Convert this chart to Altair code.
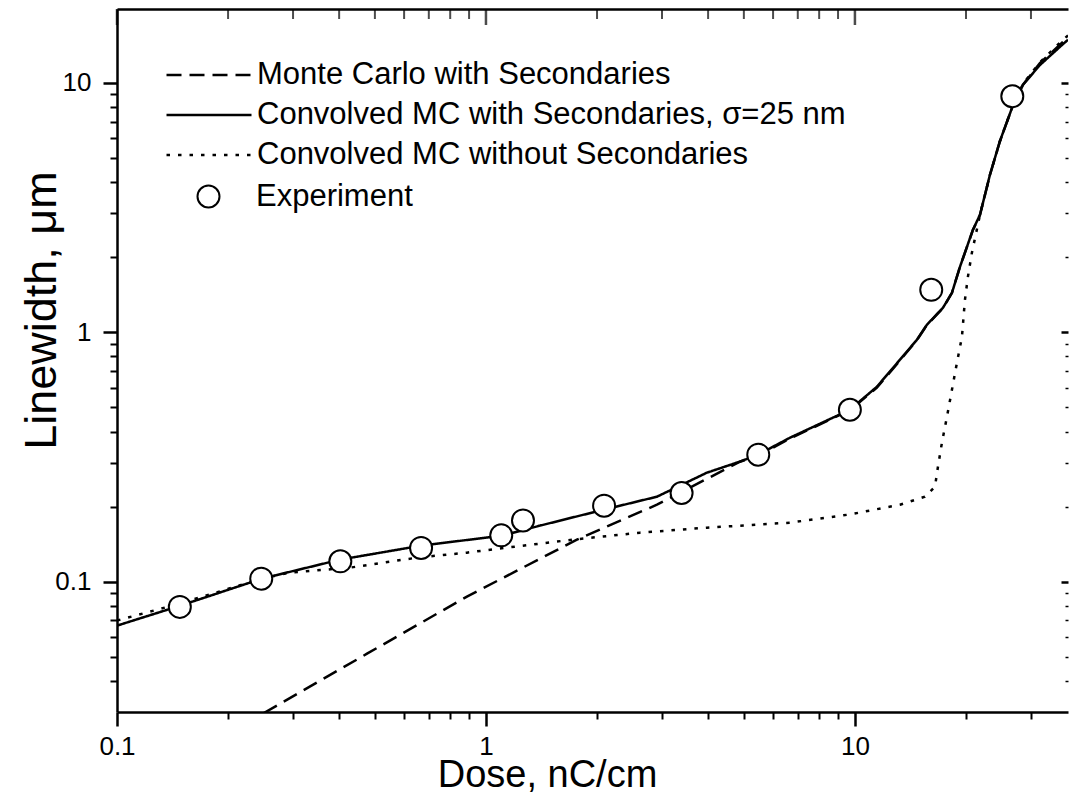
import altair as alt
import pandas as pd

FONT = "Liberation Sans"

S_MC = "Monte Carlo with Secondaries"
S_CONV = "Convolved MC with Secondaries, σ=25 nm"
S_NOSEC = "Convolved MC without Secondaries"
S_EXP = "Experiment"

# Experiment (open circles)
exp_dose = [0.148, 0.246, 0.403, 0.667, 1.10, 1.26, 2.09, 3.39, 5.47, 9.69, 16.1, 26.7]
exp_width = [0.0792, 0.1028, 0.1206, 0.1365, 0.1533, 0.176, 0.2017, 0.2267, 0.323, 0.489, 1.48, 8.85]

# Convolved MC with secondaries (solid)
conv_dose = [0.1, 0.148, 0.247, 0.402, 0.667, 1.105, 1.40, 2.087, 2.907, 3.97, 4.88, 5.46, 6.67,
             9.69, 11.47, 13.24, 14.72, 15.67, 17.32, 18.32, 19.26, 20.88, 21.82, 23.22, 24.72,
             26.65, 28.53, 31.72, 36.6, 37.8]
conv_width = [0.0666, 0.080, 0.1028, 0.1225, 0.1394, 0.1529, 0.1677, 0.1944, 0.2191, 0.2735, 0.303, 0.323, 0.3778,
              0.489, 0.605, 0.776, 0.933, 1.072, 1.254, 1.439, 1.83, 2.576, 2.958, 4.28, 5.85,
              7.94, 9.82, 11.8, 14.3, 14.9]

# Monte Carlo with secondaries (dashed)
mc_dose = [0.25, 0.476, 0.888, 1.764, 2.907, 4.88, 5.46, 6.67, 9.69, 11.47, 13.24, 14.72, 15.67,
           17.32, 18.32, 19.26, 20.88, 21.82, 23.22, 24.72, 26.65, 28.53, 31.72, 36.6, 37.8]
mc_width = [0.0297, 0.0514, 0.0871, 0.1474, 0.2035, 0.3027, 0.32, 0.375, 0.487, 0.60, 0.77, 0.93, 1.07,
            1.25, 1.44, 1.83, 2.57, 2.95, 4.27, 5.84, 7.93, 9.85, 12.0, 14.6, 15.2]

# Convolved MC without secondaries (dotted)
nosec_dose = [0.1, 0.148, 0.247, 0.294, 0.428, 0.650, 0.888, 1.14, 1.72, 2.615, 3.97, 6.67, 9.69,
              13.24, 15.48, 16.48, 16.79, 17.21, 17.76, 18.32, 18.90, 19.50, 19.87, 20.24, 20.75,
              21.82, 23.22, 24.72, 26.65, 28.53, 31.72, 36.6, 37.8]
nosec_width = [0.0698, 0.0817, 0.1028, 0.1087, 0.1138, 0.1248, 0.1307, 0.1369, 0.1474, 0.1572, 0.1646, 0.1724, 0.186,
               0.2035, 0.2191, 0.2403, 0.289, 0.3607, 0.4585, 0.588, 0.7548, 0.959, 1.35, 1.669, 2.083,
               2.958, 4.28, 5.85, 7.94, 9.9, 12.1, 14.9, 15.5]

x_major = [0.1, 1, 10]
x_minor = [0.2, 0.3, 0.4, 0.5, 0.6, 0.7, 0.8, 0.9, 2, 3, 4, 5, 6, 7, 8, 9, 20, 30]
y_major = [0.1, 1, 10]
y_minor = [0.04, 0.05, 0.06, 0.07, 0.08, 0.09, 0.2, 0.3, 0.4, 0.5, 0.6, 0.7, 0.8, 0.9,
           2, 3, 4, 5, 6, 7, 8, 9]

rows = []
for name, xs, ys in [(S_MC, mc_dose, mc_width), (S_CONV, conv_dose, conv_width),
                     (S_NOSEC, nosec_dose, nosec_width)]:
    for xv, yv in zip(xs, ys):
        rows.append({"dose": xv, "width": yv, "series": name})
lines_df = pd.DataFrame(rows)
exp_df = pd.DataFrame({"dose": exp_dose, "width": exp_width, "series": S_EXP})
top_major_df = pd.DataFrame({"dose": x_major})
top_minor_df = pd.DataFrame({"dose": x_minor})

xscale = alt.Scale(type="log", domain=[0.1, 37.8], nice=False)
yscale = alt.Scale(type="log", domain=[0.03, 19.8], nice=False)

common_label = dict(labelFont=FONT, labelColor="black", grid=False, tickColor="black",
                    domainColor="black")

ax_bottom_major = alt.Axis(orient="bottom", values=x_major, format="~g", tickSize=14, tickWidth=2.5,
                           domainWidth=2.5, labelFontSize=26, labelPadding=7, labelFlush=False,
                           title="Dose, nC/cm", titleFont=FONT, titleFontSize=38,
                           titleFontWeight="normal", titleColor="black",
                           titleX=430, titleY=74, titleBaseline="alphabetic",
                           **common_label)
ax_bottom_minor = alt.Axis(orient="bottom", values=x_minor, tickSize=7, tickWidth=2, labels=False,
                           domain=False, title=None, grid=False, tickColor="black")
ax_top_domain = alt.Axis(orient="top", ticks=False, labels=False, domain=True, domainWidth=2.5,
                         domainColor="black", title=None, grid=False)

ax_left_major = alt.Axis(orient="left", values=y_major, format="~g", tickSize=14, tickWidth=2.5,
                         domainWidth=2.5, labelFontSize=26, labelPadding=12, labelFlush=False,
                         title="Linewidth, μm", titleFont=FONT, titleFontSize=45,
                         titleFontWeight="normal", titleColor="black",
                         titleX=-62, titleY=301, titleBaseline="alphabetic", titleAngle=270,
                         **common_label)
ax_left_minor = alt.Axis(orient="left", values=y_minor, tickSize=7, tickWidth=2, labels=False,
                         domain=False, title=None, grid=False, tickColor="black")
ax_right_major = alt.Axis(orient="right", offset=-7, values=y_major, tickSize=7, tickWidth=2.5,
                          labels=False, domain=False, title=None, grid=False, tickColor="black")
ax_right_minor = alt.Axis(orient="right", offset=-3, values=y_minor, tickSize=3, tickWidth=1.5,
                          labels=False, domain=False, title=None, grid=False, tickColor="black")

dash_legend = alt.Legend(orient="none", legendX=48, legendY=51, title=None, symbolType="stroke",
                         symbolSize=7225, symbolStrokeWidth=2.5, symbolStrokeColor="black",
                         clipHeight=30, rowPadding=9, labelFont=FONT, labelFontSize=31,
                         labelColor="black", labelLimit=900, labelOffset=4, padding=0)
circle_legend = alt.Legend(orient="none", legendX=76, legendY=172, title=None, symbolType="circle",
                           symbolSize=484, symbolStrokeWidth=2, symbolFillColor="white",
                           labelFont=FONT, labelFontSize=31, labelColor="black", labelLimit=900,
                           labelOffset=32, padding=0)

lines = alt.Chart(lines_df).mark_line(color="black", strokeWidth=2.5, clip=True).encode(
    x=alt.X("dose:Q", scale=xscale, axis=ax_bottom_major),
    y=alt.Y("width:Q", scale=yscale, axis=ax_left_major),
    strokeDash=alt.StrokeDash("series:N",
                              scale=alt.Scale(domain=[S_MC, S_CONV, S_NOSEC],
                                              range=[[15, 8], [1, 0], [3.5, 8]]),
                              legend=dash_legend),
)

points = alt.Chart(exp_df).mark_point(filled=False, fill="white", strokeWidth=2,
                                      size=484, opacity=1, clip=True).encode(
    x=alt.X("dose:Q", scale=xscale, axis=ax_bottom_minor),
    y=alt.Y("width:Q", scale=yscale, axis=ax_left_minor),
    stroke=alt.Stroke("series:N", scale=alt.Scale(domain=[S_EXP], range=["black"]),
                      legend=circle_legend),
)

inv1 = alt.Chart(exp_df).mark_point(opacity=0).encode(
    x=alt.X("dose:Q", scale=xscale, axis=None),
    y=alt.Y("width:Q", scale=yscale, axis=ax_right_major),
)
inv2 = alt.Chart(exp_df).mark_point(opacity=0).encode(
    x=alt.X("dose:Q", scale=xscale, axis=None),
    y=alt.Y("width:Q", scale=yscale, axis=ax_right_minor),
)
inv3 = alt.Chart(exp_df).mark_point(opacity=0).encode(
    x=alt.X("dose:Q", scale=xscale, axis=ax_top_domain),
    y=alt.Y("width:Q", scale=yscale, axis=None),
)

# inward tick marks hanging from the top frame
top_major = alt.Chart(top_major_df).mark_tick(color="black", thickness=2.5, size=16,
                                              orient="vertical").encode(
    x=alt.X("dose:Q", scale=xscale, axis=None),
    y=alt.value(8),
)
top_minor = alt.Chart(top_minor_df).mark_tick(color="black", thickness=2, size=10,
                                              orient="vertical").encode(
    x=alt.X("dose:Q", scale=xscale, axis=None),
    y=alt.value(5),
)

chart = alt.layer(lines, points, inv1, inv2, inv3, top_major, top_minor).resolve_axis(
    x="independent", y="independent"
).properties(
    width=951, height=703,
    padding={"left": 117, "top": 9, "right": 1, "bottom": 97},
    autosize=alt.AutoSizeParams(type="none"),
    background="white",
).configure_view(strokeWidth=0)

chart.save("out.html", embed_options={"renderer": "svg", "actions": False})
